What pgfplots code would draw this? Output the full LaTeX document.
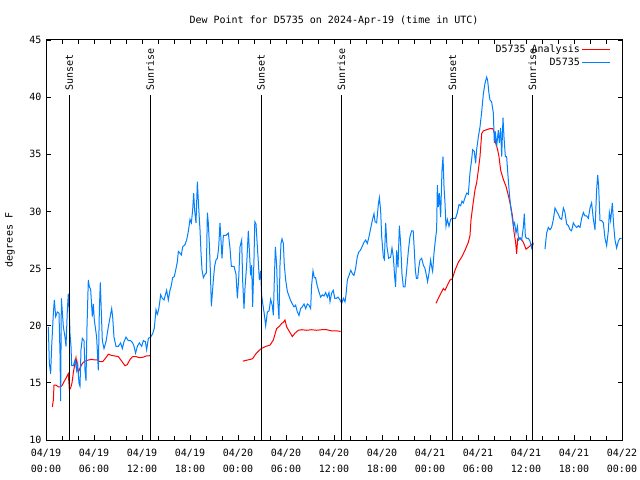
\documentclass[border=0pt]{standalone}
\usepackage{pgfplots}
\pgfplotsset{compat=1.18}
\usepackage{fontspec}
\setmainfont{DejaVu Sans Mono}
\definecolor{dpblue}{RGB}{0,128,255}
\definecolor{dpred}{RGB}{255,0,0}
\begin{document}
\fontsize{10bp}{12bp}\selectfont
\begin{tikzpicture}
\useasboundingbox (-46bp,-40bp) rectangle (594bp,440bp);
\begin{axis}[
  at={(0,0)}, anchor=south west, scale only axis,
  width=576bp, height=400bp,
  xmin=0, xmax=72, ymin=10, ymax=45,
  xtick={0,6,...,72}, minor x tick num=2, ytick={10,15,...,45},
  xticklabels={{04/19\\00:00},{04/19\\06:00},{04/19\\12:00},{04/19\\18:00},
    {04/20\\00:00},{04/20\\06:00},{04/20\\12:00},{04/20\\18:00},
    {04/21\\00:00},{04/21\\06:00},{04/21\\12:00},{04/21\\18:00},{04/22\\00:00}},
  xticklabel style={align=center, font=\fontsize{10bp}{16bp}\selectfont, yshift=-6bp},
  yticklabel style={xshift=-1bp},
  tick align=inside, major tick length=4.5bp, minor tick length=4bp,
  tick style={black, line width=0.8bp},
  axis line style={line width=1bp},
  /pgf/number format/assume math mode=true,
  title={Dew Point for D5735 on 2024-Apr-19 (time in UTC)},
  title style={at={(axis description cs:0.5,1)}, anchor=base, yshift=11bp, inner sep=0pt},
  ylabel={degrees F},
  ylabel style={at={(axis description cs:-0.0625,0.5)}, anchor=center},
  unbounded coords=jump,
  legend plot pos=right,
  legend cell align=right,
  legend style={at={(axis description cs:1,1)}, anchor=north east,
    xshift=-8bp, yshift=-1bp, draw=none, fill=none},
]
\addplot[dpred, line width=1bp, legend image code/.code={\draw[dpred, line width=1bp] (0bp,0bp) -- (28bp,0bp);}] table {
0.79 12.9
0.92 13.5
1.0 14.8
1.25 14.8
1.54 14.65
1.83 14.65
2.04 14.8
2.25 15.1
2.5 15.4
2.79 15.8
2.92 14.4
3.08 14.55
3.25 15.0
3.42 15.9
3.625 16.75
3.75 17.2
3.875 16.5
4.04 15.9
4.25 16.3
4.46 16.6
4.67 16.8
4.875 16.9
5.29 17.0
5.71 17.05
6.125 17.0
6.42 17.0
6.75 16.85
7.08 16.85
7.375 17.1
7.79 17.5
8.21 17.4
8.625 17.35
9.04 17.3
9.46 16.9
9.875 16.5
10.17 16.6
10.5 17.05
10.83 17.3
11.25 17.3
11.67 17.2
12.17 17.25
12.5 17.35
12.8 17.35
13.0 17.4
13.1 nan
24.6 16.9
25.2 17.0
25.8 17.1
26.3 17.6
26.9 18.0
27.5 18.2
28.0 18.3
28.42 18.75
28.83 19.75
29.17 19.95
29.46 20.2
29.67 20.3
29.875 20.5
30.08 19.9
30.42 19.5
30.79 19.05
31.125 19.35
31.54 19.6
31.96 19.65
32.58 19.6
33.2 19.65
33.83 19.6
34.46 19.65
35.08 19.65
35.7 19.55
36.33 19.55
36.83 19.5
36.9 nan
48.75 21.96
49.04 22.4
49.33 22.8
49.67 23.25
49.875 23.1
50.08 23.4
50.5 24.0
50.79 24.1
51.125 24.85
51.54 25.55
51.96 26.0
52.375 26.6
52.79 27.3
53.0 27.9
53.125 29.25
53.33 30.4
53.625 31.9
53.83 32.5
54.04 33.6
54.25 34.8
54.46 36.8
54.67 37.05
55.08 37.15
55.5 37.25
55.83 37.25
56.0 37.0
56.2 36.0
56.42 35.5
56.625 34.8
56.83 33.6
57.17 32.8
57.5 32.2
57.79 31.4
58.08 30.5
58.33 29.5
58.5 28.2
58.7 27.3
58.83 26.3
58.96 27.6
59.25 27.7
59.67 27.3
60.0 26.7
60.29 26.85
60.7 27.1
60.92 27.25
};
\addlegendentry{D5735 Analysis}
\addplot[dpblue, line width=1bp, legend image code/.code={\draw[dpblue, line width=1bp] (0bp,0bp) -- (28bp,0bp);}] table {
0.29 19.9
0.42 16.7
0.58 15.8
0.71 18.2
0.92 21.1
1.04 22.25
1.21 20.8
1.42 21.2
1.625 21.1
1.75 17.6
1.83 13.4
1.92 22.4
2.17 19.9
2.375 19.0
2.5 18.2
2.67 21.4
2.79 22.8
2.92 21.1
3.0 19.3
3.125 18.2
3.21 16.5
3.42 16.5
3.625 17.0
3.83 16.1
3.96 16.7
4.125 14.95
4.25 14.7
4.375 17.9
4.54 18.9
4.75 18.7
4.875 16.1
5.0 15.2
5.125 19.9
5.29 24.0
5.42 23.4
5.58 23.2
5.79 20.8
5.92 21.9
6.04 20.5
6.33 19.0
6.54 16.1
6.67 21.4
6.79 23.8
6.92 21.1
7.04 18.7
7.25 18.0
7.5 18.6
7.79 19.9
8.0 20.7
8.21 21.5
8.33 20.8
8.5 19.0
8.75 18.2
9.04 18.2
9.33 18.5
9.54 18.0
9.75 18.6
10.0 19.0
10.29 18.7
10.58 18.7
10.83 18.5
11.0 18.2
11.2 17.6
11.42 18.2
11.67 18.5
11.96 18.2
12.17 18.7
12.42 18.6
12.58 17.9
12.8 18.9
13.08 19.0
13.33 19.3
13.54 19.8
13.75 21.4
13.92 21.0
14.08 21.4
14.25 22.25
14.33 22.7
14.54 22.4
14.75 22.25
14.96 22.8
15.08 23.1
15.29 22.25
15.5 23.1
15.63 23.4
15.83 24.2
16.04 24.3
16.25 25.0
16.42 25.6
16.54 26.5
16.75 26.35
16.92 26.2
17.08 26.9
17.38 27.1
17.58 27.5
17.79 28.25
18.0 29.3
18.17 29.0
18.33 30.1
18.46 31.6
18.58 30.1
18.75 29.0
18.92 32.6
19.08 30.4
19.25 28.4
19.38 26.35
19.5 24.9
19.67 24.2
19.88 24.5
20.04 24.6
20.17 29.9
20.29 29.0
20.42 27.1
20.54 24.9
20.67 21.7
20.79 22.8
20.92 24.0
21.08 25.2
21.25 25.75
21.42 25.9
21.58 26.8
21.75 29.0
21.88 27.4
22.0 25.9
22.17 27.9
22.5 27.9
22.79 28.1
23.0 26.8
23.17 25.2
23.5 25.2
23.75 24.5
23.92 22.4
24.08 24.0
24.25 26.9
24.46 27.5
24.58 24.0
24.75 21.5
24.875 23.3
25.08 25.3
25.29 28.3
25.42 26.6
25.58 24.4
25.71 25.3
25.83 21.65
26.0 25.9
26.1 29.1
26.25 28.9
26.42 26.9
26.54 25.6
26.67 24.0
26.83 24.8
26.96 22.6
27.08 22.0
27.25 21.2
27.46 20.0
27.67 21.2
27.88 21.3
28.08 22.3
28.29 21.75
28.42 20.9
28.54 24.0
28.67 26.9
28.83 25.3
28.96 22.3
29.125 20.6
29.25 25.3
29.375 27.2
29.5 27.6
29.67 27.2
29.79 25.3
29.96 24.0
30.17 23.0
30.375 22.6
30.58 22.2
30.79 21.9
31.0 21.65
31.2 21.8
31.42 21.2
31.625 20.9
31.83 21.5
32.04 21.65
32.25 21.9
32.46 21.5
32.67 21.9
32.875 21.8
33.08 21.5
33.2 23.5
33.375 24.8
33.54 24.2
33.7 24.2
33.9 23.5
34.1 23.0
34.33 22.5
34.54 22.7
34.75 22.6
34.96 22.9
35.17 22.5
35.375 22.9
35.5 22.1
35.7 22.85
35.9 23.1
36.1 22.4
36.3 22.4
36.5 22.5
36.75 22.25
36.96 21.95
37.17 22.4
37.375 22.1
37.5 22.7
37.67 24.0
37.875 24.4
38.1 24.85
38.3 24.55
38.5 24.4
38.7 25.0
38.9 26.0
39.1 26.45
39.3 26.6
39.5 26.9
39.75 27.3
39.96 27.5
40.17 27.2
40.375 27.8
40.58 28.5
40.8 29.25
41.0 29.8
41.125 29.1
41.33 29.0
41.54 30.6
41.67 31.2
41.83 30.1
41.96 27.8
42.17 26.0
42.3 25.8
42.46 29.0
42.625 26.9
42.83 25.9
43.08 26.0
43.25 26.8
43.42 26.0
43.58 24.3
43.7 23.4
43.83 26.6
44.0 25.1
44.17 28.75
44.33 27.2
44.5 24.5
44.67 23.4
44.875 23.4
45.08 24.85
45.3 26.6
45.5 27.8
45.7 28.3
45.9 28.3
46.04 26.6
46.17 24.85
46.3 24.15
46.46 24.15
46.6 25.1
46.75 25.75
46.96 25.9
47.17 25.3
47.375 25.0
47.58 24.3
47.7 23.85
47.875 24.6
48.08 25.75
48.2 25.2
48.33 24.75
48.5 26.35
48.67 27.5
48.83 28.4
48.92 32.3
49.04 30.4
49.17 31.6
49.33 29.5
49.5 33.6
49.625 34.8
49.75 32.2
49.875 30.7
50.0 28.7
50.17 29.3
50.375 28.7
50.58 29.3
50.79 29.4
51.0 29.4
51.2 29.4
51.42 29.9
51.625 30.6
51.83 30.5
52.0 30.9
52.17 30.75
52.375 31.2
52.58 31.6
52.79 31.5
53.0 33.4
53.2 34.5
53.33 35.4
53.54 35.25
53.7 34.2
53.83 35.4
54.04 36.5
54.25 37.4
54.46 38.7
54.67 40.3
54.875 41.2
55.08 41.75
55.2 41.5
55.375 40.3
55.5 39.75
55.7 39.6
55.92 38.6
56.04 36.0
56.17 37.0
56.33 35.7
56.54 37.1
56.67 36.0
56.83 37.3
56.96 34.8
57.125 38.2
57.25 36.5
57.42 34.8
57.58 34.8
57.75 33.1
57.92 31.6
58.08 30.4
58.25 29.6
58.42 28.7
58.58 29.0
58.75 28.1
58.92 28.7
59.08 27.5
59.25 27.65
59.46 27.5
59.67 28.65
59.79 29.8
59.92 27.8
60.08 27.65
60.29 27.65
60.5 27.4
60.71 26.8
60.92 27.2
61.5 nan
62.37 26.7
62.58 28.1
62.79 28.6
63.0 28.4
63.2 28.6
63.42 29.3
63.625 30.3
63.83 30.0
64.04 29.75
64.25 29.4
64.46 29.3
64.67 30.3
64.875 29.9
65.08 28.9
65.29 28.75
65.5 28.4
65.7 28.3
65.92 29.0
66.125 28.75
66.33 28.6
66.54 28.75
66.75 28.6
66.96 29.4
67.17 29.9
67.375 29.6
67.58 29.6
67.79 29.4
68.0 30.3
68.2 30.75
68.42 29.3
68.625 28.4
68.83 31.9
68.96 33.2
69.08 32.2
69.25 29.2
69.46 29.2
69.67 29.0
69.875 27.65
70.08 27.0
70.29 28.3
70.42 29.9
70.58 29.2
70.79 30.75
70.96 28.75
71.125 27.5
71.33 26.8
71.54 27.4
71.75 27.65
71.96 27.65
};
\addlegendentry{D5735}
\addplot[black, line width=1bp, forget plot] coordinates {(2.9,10) (2.9,40.2)};
\addplot[black, line width=1bp, forget plot] coordinates {(13.03,10) (13.03,40.2)};
\addplot[black, line width=1bp, forget plot] coordinates {(26.88,10) (26.88,40.2)};
\addplot[black, line width=1bp, forget plot] coordinates {(36.93,10) (36.93,40.2)};
\addplot[black, line width=1bp, forget plot] coordinates {(50.8,10) (50.8,40.2)};
\addplot[black, line width=1bp, forget plot] coordinates {(60.8,10) (60.8,40.2)};
\node[rotate=90, anchor=west, inner sep=0pt, xshift=1bp] at (axis cs:2.9,40.45) {Sunset};
\node[rotate=90, anchor=west, inner sep=0pt, xshift=1bp] at (axis cs:13.03,40.45) {Sunrise};
\node[rotate=90, anchor=west, inner sep=0pt, xshift=1bp] at (axis cs:26.88,40.45) {Sunset};
\node[rotate=90, anchor=west, inner sep=0pt, xshift=1bp] at (axis cs:36.93,40.45) {Sunrise};
\node[rotate=90, anchor=west, inner sep=0pt, xshift=1bp] at (axis cs:50.8,40.45) {Sunset};
\node[rotate=90, anchor=west, inner sep=0pt, xshift=1bp] at (axis cs:60.8,40.45) {Sunrise};
\end{axis}
\end{tikzpicture}
\end{document}
